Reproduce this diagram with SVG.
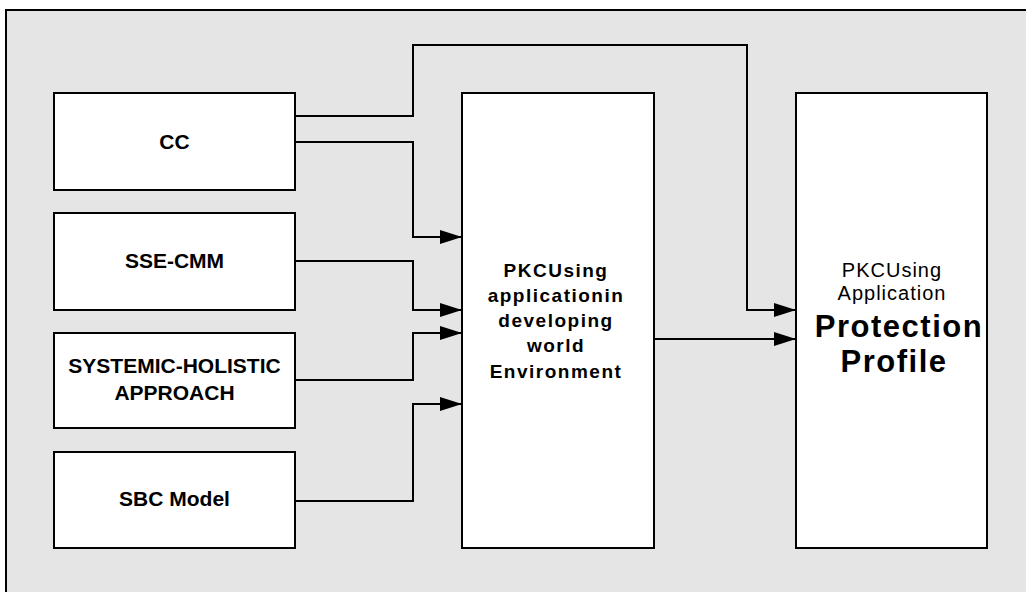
<svg xmlns="http://www.w3.org/2000/svg" width="1026" height="592" viewBox="0 0 1026 592">
<defs>
<marker id="arr" viewBox="0 0 22 14" refX="22" refY="7" markerWidth="22" markerHeight="14" markerUnits="userSpaceOnUse" orient="auto">
<path d="M0,0 L22,7 L0,14 Z" fill="#000"/>
</marker>
<style>
.box{fill:#fff;stroke:#000;stroke-width:2}
.lbl{font-family:"Liberation Sans",Arial,sans-serif;font-weight:bold;font-size:21px;text-anchor:middle;fill:#000}
.mid{font-family:"Liberation Sans",Arial,sans-serif;font-weight:bold;font-size:19px;letter-spacing:1.5px;text-anchor:middle;fill:#000}
.rt{font-family:"Liberation Sans",Arial,sans-serif;font-size:20px;letter-spacing:1px;text-anchor:middle;fill:#000}
.big{font-family:"Liberation Sans",Arial,sans-serif;font-weight:bold;font-size:31px;letter-spacing:1.5px;text-anchor:middle;fill:#000}
.con{fill:none;stroke:#000;stroke-width:2;marker-end:url(#arr)}
</style>
</defs>
<rect x="6" y="10" width="1040" height="600" fill="#e5e5e5" stroke="#000" stroke-width="2"/>
<g id="cc">
<rect class="box" x="54" y="93" width="241" height="97"/>
<text class="lbl" x="174.5" y="149">CC</text>
</g>
<g id="sse-cmm">
<rect class="box" x="54" y="213" width="241" height="97"/>
<text class="lbl" x="174.5" y="268">SSE-CMM</text>
</g>
<g id="systemic">
<rect class="box" x="54" y="333" width="241" height="95"/>
<text class="lbl" x="174.5" y="373">SYSTEMIC-HOLISTIC</text>
<text class="lbl" x="174.5" y="400">APPROACH</text>
</g>
<g id="sbc">
<rect class="box" x="54" y="452" width="241" height="96"/>
<text class="lbl" x="174.5" y="506">SBC Model</text>
</g>
<g id="pkc-env">
<rect class="box" x="462" y="93" width="192" height="455"/>
<text class="mid" x="556" y="277">PKCUsing</text>
<text class="mid" x="556" y="302">applicationin</text>
<text class="mid" x="556" y="327">developing</text>
<text class="mid" x="556" y="352">world</text>
<text class="mid" x="556" y="378">Environment</text>
</g>
<g id="pp">
<rect class="box" x="796" y="93" width="191" height="455"/>
<text class="rt" x="892" y="277">PKCUsing</text>
<text class="rt" x="892" y="300">Application</text>
<text class="big" x="899" y="337">Protection</text>
<text class="big" x="894" y="372">Profile</text>
</g>
<g id="connectors">
<path class="con" d="M295,116 H413 V45 H747 V310 H796"/>
<path class="con" d="M295,142 H413 V237 H462"/>
<path class="con" d="M295,261 H413 V310 H462"/>
<path class="con" d="M295,380 H413 V333 H462"/>
<path class="con" d="M295,501 H413 V404 H462"/>
<path class="con" d="M654,339 H796"/>
</g>
</svg>
